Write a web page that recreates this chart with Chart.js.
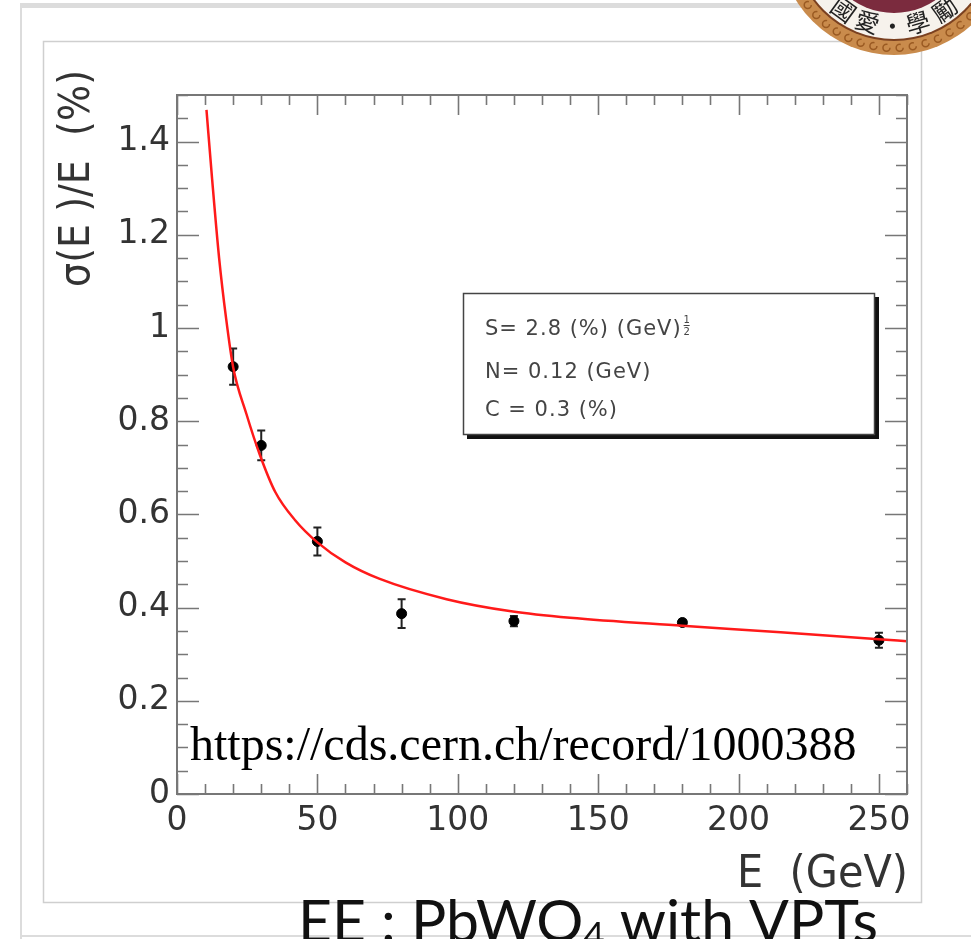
<!DOCTYPE html>
<html>
<head>
<meta charset="utf-8">
<script src="https://cdn.jsdelivr.net/npm/chart.js@4.4.0/dist/chart.umd.min.js"></script>
<style>
  html, body { margin: 0; padding: 0; background: #fff; }
  canvas { display: block; }
</style>
</head>
<body>
<canvas id="chart" width="971" height="939"></canvas>
<script>
// measured points (E in GeV, sigma/E in %)
const beamEnergy = [20, 30, 50, 80, 120, 180, 250];
const resolution = [0.917, 0.748, 0.542, 0.387, 0.371, 0.368, 0.330];
const resolutionErr = [0.039, 0.032, 0.030, 0.031, 0.011, 0.006, 0.016];

// red fit curve
const fitEnergy = [10.5, 12.5, 15, 17.5, 20, 24.7, 29.5, 35, 42, 50, 60, 72, 96, 119, 140, 180, 215, 250, 260];
const fitResolution = [1.468, 1.32, 1.15, 1.02, 0.916, 0.816, 0.728, 0.648, 0.588, 0.540, 0.497, 0.462, 0.418, 0.392, 0.378, 0.361, 0.347, 0.332, 0.328];

const xTickLabels = [0, 50, 100, 150, 200, 250];
const yTickLabels = [0, 0.2, 0.4, 0.6, 0.8, 1, 1.2, 1.4];
const fitParams = ['S= 2.8 (%) (GeV)', 'N= 0.12 (GeV)', 'C = 0.3 (%)'];
const sealChars = ['國', '愛', '·', '學', '勵'];

const AXIS_FONT = 'DejaVu Sans, sans-serif';

// fill text squeezed/stretched to a given width
function fitText(ctx, text, x, y, width) {
    const w = ctx.measureText(text).width;
    ctx.save();
    ctx.translate(x, y);
    ctx.scale(width / w, 1);
    ctx.fillText(text, 0, 0);
    ctx.restore();
}

function drawSeal(ctx) {
    const cx = 894, cy = -60;
    ctx.save();
    ctx.beginPath(); ctx.arc(cx, cy, 115, 0, Math.PI * 2);
    ctx.fillStyle = '#c98b4c'; ctx.fill();
    // little scroll pattern on the outer ring
    ctx.strokeStyle = '#9a5a22'; ctx.lineWidth = 1.5;
    for (let a = 10; a <= 170; a += 7) {
        const r = a * Math.PI / 180;
        ctx.beginPath();
        ctx.arc(cx + 108 * Math.cos(r), cy + 108 * Math.sin(r), 3.5, 0, Math.PI * 1.6);
        ctx.stroke();
    }
    ctx.beginPath(); ctx.arc(cx, cy, 101, 0, Math.PI * 2);
    ctx.fillStyle = '#7a4020'; ctx.fill();
    ctx.beginPath(); ctx.arc(cx, cy, 99, 0, Math.PI * 2);
    ctx.fillStyle = '#f6f2ec'; ctx.fill();
    ctx.beginPath(); ctx.arc(cx, cy, 73, 0, Math.PI * 2);
    ctx.fillStyle = '#7b2b3e'; ctx.fill();
    ctx.beginPath();
    ctx.moveTo(cx - 60, cy + 20); ctx.lineTo(cx, cy + 50); ctx.lineTo(cx + 60, cy + 20);
    ctx.lineTo(cx + 60, cy); ctx.lineTo(cx - 60, cy); ctx.closePath();
    ctx.fillStyle = '#efe6c8'; ctx.fill();
    ctx.beginPath();
    ctx.moveTo(cx - 30, cy + 55); ctx.lineTo(cx, cy + 40); ctx.lineTo(cx + 30, cy + 55);
    ctx.lineTo(cx + 30, cy + 66); ctx.lineTo(cx - 30, cy + 66); ctx.closePath();
    ctx.fillStyle = '#7b2b3e'; ctx.fill();

    const angles = [126, 108, 91, 74, 54];
    ctx.fillStyle = '#222';
    ctx.font = '24px "Noto Sans CJK TC", sans-serif';
    ctx.textAlign = 'center';
    ctx.textBaseline = 'middle';
    sealChars.forEach((ch, i) => {
        const r = angles[i] * Math.PI / 180;
        ctx.save();
        ctx.translate(cx + 86 * Math.cos(r), cy + 86 * Math.sin(r));
        ctx.rotate(r - Math.PI / 2);
        ctx.fillText(ch, 0, 0);
        ctx.restore();
    });
    ctx.restore();
}

const pageDecor = {
    id: 'pageDecor',
    beforeDraw(chart) {
        const ctx = chart.ctx;
        ctx.save();
        ctx.fillStyle = '#fff';
        ctx.fillRect(0, 0, chart.width, chart.height);
        // slide frame
        ctx.fillStyle = '#dcdcdc';
        ctx.fillRect(20, 3, 951, 5);
        ctx.fillRect(20, 3, 2, 936);
        ctx.fillRect(20, 935, 951, 2);
        // canvas frame
        ctx.strokeStyle = '#cfcfcf';
        ctx.lineWidth = 1.5;
        ctx.strokeRect(43.5, 41.5, 878, 861);
        ctx.restore();
    },
    afterDraw(chart) {
        const ctx = chart.ctx;
        ctx.save();

        // fit parameter box
        ctx.fillStyle = '#111';
        ctx.fillRect(467, 297, 412, 142);
        ctx.fillStyle = '#fff';
        ctx.fillRect(463, 293, 412, 142);
        ctx.strokeStyle = '#444';
        ctx.lineWidth = 1.5;
        ctx.strokeRect(463.5, 293.5, 411, 141);
        ctx.fillStyle = '#444';
        ctx.font = '21px ' + AXIS_FONT;
        ctx.textAlign = 'left';
        ctx.textBaseline = 'alphabetic';
        ctx.letterSpacing = '1px';
        const baselines = [335, 378, 416];
        fitParams.forEach((t, i) => ctx.fillText(t, 485, baselines[i]));
        // exponent 1/2
        const w0 = ctx.measureText(fitParams[0]).width;
        ctx.letterSpacing = '0px';
        ctx.font = '10px ' + AXIS_FONT;
        ctx.textAlign = 'center';
        const ex = 485 + w0 + 5;
        ctx.fillText('1', ex, 323);
        ctx.fillRect(ex - 3, 325, 6, 1);
        ctx.fillText('2', ex, 335);

        // axis titles
        ctx.fillStyle = '#333';
        ctx.textAlign = 'left';
        ctx.font = '44px ' + AXIS_FONT;
        fitText(ctx, 'E  (GeV)', 737, 887, 171);
        ctx.save();
        ctx.translate(89, 287);
        ctx.rotate(-Math.PI / 2);
        ctx.font = '42px ' + AXIS_FONT;
        fitText(ctx, 'σ(E )/E  (%)', 0, 0, 217);
        ctx.restore();

        // source link
        ctx.fillStyle = '#000';
        ctx.font = '48px "Liberation Serif", "Times New Roman", serif';
        ctx.fillText('https://cds.cern.ch/record/1000388', 190, 760);

        // slide caption
        const parts = [['EE : PbWO', 1, 0], ['4', 0.62, 6], [' with VPTs', 1, 0]];
        let size = 58;
        const font = s => s + 'px Lato, "Open Sans", sans-serif';
        let total = 0;
        parts.forEach(p => { ctx.font = font(size * p[1]); total += ctx.measureText(p[0]).width; });
        size = size * 580 / total;
        let x = 298;
        ctx.fillStyle = '#111';
        parts.forEach(p => {
            ctx.font = font(size * p[1]);
            ctx.fillText(p[0], x, 942 + p[2]);
            x += ctx.measureText(p[0]).width;
        });

        drawSeal(ctx);
        ctx.restore();
    }
};

// ROOT style frame with inward ticks on all four sides
const frameTicks = {
    id: 'frameTicks',
    afterDatasetsDraw(chart) {
        const { ctx, chartArea: a, scales: { x, y } } = chart;
        ctx.save();
        ctx.strokeStyle = '#777';
        ctx.lineWidth = 1.6;
        ctx.beginPath();
        for (let k = 0; k <= 30; k++) {
            const py = Math.round(y.getPixelForValue(k * 0.05)) + 0.5;
            const len = k % 4 === 0 ? 22 : 11;
            ctx.moveTo(a.left, py); ctx.lineTo(a.left + len, py);
            ctx.moveTo(a.right, py); ctx.lineTo(a.right - len, py);
        }
        for (let v = 0; v <= 260; v += 10) {
            const px = Math.round(x.getPixelForValue(v)) + 0.5;
            const len = v % 50 === 0 ? 20 : 10;
            ctx.moveTo(px, a.bottom); ctx.lineTo(px, a.bottom - len);
            ctx.moveTo(px, a.top); ctx.lineTo(px, a.top + len);
        }
        ctx.stroke();
        ctx.lineWidth = 2;
        ctx.strokeRect(a.left, a.top, a.right - a.left, a.bottom - a.top);
        ctx.restore();
    }
};

const errorBars = {
    id: 'errorBars',
    beforeDatasetsDraw(chart) {
        const { ctx, scales: { x, y } } = chart;
        ctx.save();
        ctx.strokeStyle = '#222';
        ctx.lineWidth = 2;
        beamEnergy.forEach((e, i) => {
            const px = x.getPixelForValue(e);
            const top = y.getPixelForValue(resolution[i] + resolutionErr[i]);
            const bot = y.getPixelForValue(resolution[i] - resolutionErr[i]);
            ctx.beginPath();
            ctx.moveTo(px, top); ctx.lineTo(px, bot);
            ctx.moveTo(px - 4, top); ctx.lineTo(px + 4, top);
            ctx.moveTo(px - 4, bot); ctx.lineTo(px + 4, bot);
            ctx.stroke();
        });
        ctx.restore();
    }
};

const tickFont = { family: AXIS_FONT, size: 33 };

new Chart(document.getElementById('chart'), {
    type: 'scatter',
    data: {
        datasets: [
            {
                label: 'fit',
                data: fitEnergy.map((e, i) => ({ x: e, y: fitResolution[i] })),
                showLine: true,
                borderColor: '#ff1a1a',
                borderWidth: 2.5,
                pointRadius: 0,
                cubicInterpolationMode: 'monotone',
                order: 0
            },
            {
                label: 'data',
                data: beamEnergy.map((e, i) => ({ x: e, y: resolution[i] })),
                backgroundColor: '#000',
                borderColor: '#000',
                pointRadius: 5,
                order: 1
            }
        ]
    },
    options: {
        responsive: false,
        animation: false,
        devicePixelRatio: 1,
        layout: { padding: { top: 95, right: 64, left: 0, bottom: 0 } },
        plugins: {
            legend: { display: false },
            tooltip: { enabled: false }
        },
        scales: {
            x: {
                type: 'linear',
                min: 0,
                max: 260,
                grid: { display: false, drawTicks: false },
                border: { display: false },
                afterBuildTicks: s => { s.ticks = xTickLabels.map(v => ({ value: v })); },
                afterFit: s => { s.height = 145; },
                ticks: {
                    font: tickFont,
                    color: '#333',
                    padding: 8,
                    maxRotation: 0,
                    autoSkip: false,
                    callback: v => String(v)
                }
            },
            y: {
                type: 'linear',
                min: 0,
                max: 1.5,
                grid: { display: false, drawTicks: false },
                border: { display: false },
                afterBuildTicks: s => { s.ticks = yTickLabels.map(v => ({ value: v })); },
                afterFit: s => { s.width = 177; },
                ticks: {
                    font: tickFont,
                    color: '#333',
                    padding: 7,
                    autoSkip: false,
                    callback: v => String(+v.toFixed(1))
                }
            }
        }
    },
    plugins: [pageDecor, errorBars, frameTicks]
});
</script>
</body>
</html>
